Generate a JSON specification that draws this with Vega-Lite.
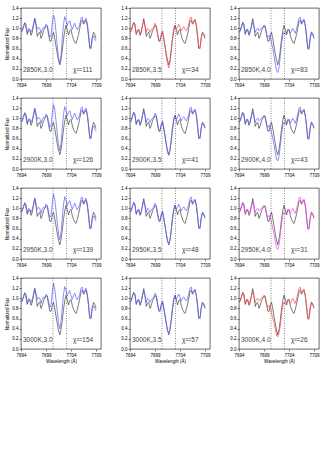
{
"$schema":"https://vega.github.io/schema/vega-lite/v6.json",
"padding":{"left":4,"top":4,"right":4,"bottom":4},
"datasets":{
"s":[
{"w":7694.00,"o":0.93,"a1":0.95,"a2":0.95,"a3":0.95,"a4":0.95,"b1":0.92,"b2":0.92,"b3":0.92,"b4":0.92,"c1":0.92,"c2":0.92,"c3":0.92,"c4":0.92},
{"w":7694.25,"o":0.96,"a1":0.94,"a2":0.94,"a3":0.94,"a4":0.94,"b1":0.95,"b2":0.95,"b3":0.95,"b4":0.95,"c1":0.94,"c2":0.94,"c3":0.94,"c4":0.94},
{"w":7694.50,"o":1.04,"a1":1.02,"a2":1.02,"a3":1.02,"a4":1.02,"b1":1.05,"b2":1.05,"b3":1.05,"b4":1.05,"c1":1.03,"c2":1.03,"c3":1.03,"c4":1.03},
{"w":7694.75,"o":1.11,"a1":1.10,"a2":1.10,"a3":1.10,"a4":1.10,"b1":1.12,"b2":1.12,"b3":1.12,"b4":1.12,"c1":1.12,"c2":1.12,"c3":1.12,"c4":1.12},
{"w":7695.00,"o":1.08,"a1":1.00,"a2":1.00,"a3":1.00,"a4":1.00,"b1":1.04,"b2":1.04,"b3":1.04,"b4":1.04,"c1":1.02,"c2":1.02,"c3":1.02,"c4":1.02},
{"w":7695.25,"o":0.88,"a1":0.90,"a2":0.90,"a3":0.90,"a4":0.90,"b1":0.88,"b2":0.88,"b3":0.88,"b4":0.88,"c1":0.90,"c2":0.90,"c3":0.90,"c4":0.90},
{"w":7695.50,"o":0.95,"a1":1.00,"a2":1.00,"a3":1.00,"a4":1.00,"b1":0.96,"b2":0.96,"b3":0.96,"b4":0.96,"c1":0.98,"c2":0.98,"c3":0.98,"c4":0.98},
{"w":7695.75,"o":0.98,"a1":0.97,"a2":0.97,"a3":0.97,"a4":0.97,"b1":0.97,"b2":0.97,"b3":0.97,"b4":0.97,"c1":0.95,"c2":0.95,"c3":0.95,"c4":0.95},
{"w":7696.00,"o":0.86,"a1":0.92,"a2":0.92,"a3":0.92,"a4":0.92,"b1":0.88,"b2":0.88,"b3":0.88,"b4":0.88,"c1":0.88,"c2":0.88,"c3":0.88,"c4":0.88},
{"w":7696.25,"o":0.92,"a1":0.98,"a2":0.98,"a3":0.98,"a4":0.98,"b1":0.94,"b2":0.94,"b3":0.94,"b4":0.94,"c1":0.95,"c2":0.95,"c3":0.95,"c4":0.95},
{"w":7696.50,"o":1.06,"a1":1.08,"a2":1.08,"a3":1.08,"a4":1.08,"b1":1.05,"b2":1.05,"b3":1.05,"b4":1.05,"c1":1.05,"c2":1.05,"c3":1.05,"c4":1.05},
{"w":7696.75,"o":1.19,"a1":1.20,"a2":1.20,"a3":1.20,"a4":1.20,"b1":1.15,"b2":1.15,"b3":1.15,"b4":1.15,"c1":1.12,"c2":1.12,"c3":1.12,"c4":1.12},
{"w":7697.00,"o":1.05,"a1":1.10,"a2":1.10,"a3":1.10,"a4":1.10,"b1":1.05,"b2":1.05,"b3":1.05,"b4":1.05,"c1":1.02,"c2":1.02,"c3":1.02,"c4":1.02},
{"w":7697.25,"o":0.84,"a1":0.98,"a2":0.98,"a3":0.98,"a4":0.98,"b1":0.92,"b2":0.92,"b3":0.92,"b4":0.92,"c1":0.92,"c2":0.92,"c3":0.92,"c4":0.92},
{"w":7697.50,"o":0.90,"a1":1.02,"a2":1.02,"a3":1.02,"a4":1.02,"b1":1.00,"b2":1.00,"b3":1.00,"b4":1.00,"c1":0.98,"c2":0.98,"c3":0.98,"c4":0.98},
{"w":7697.75,"o":0.92,"a1":1.00,"a2":1.00,"a3":1.00,"a4":1.00,"b1":0.98,"b2":0.98,"b3":0.98,"b4":0.98,"c1":1.00,"c2":1.00,"c3":1.00,"c4":1.00},
{"w":7698.00,"o":0.80,"a1":0.90,"a2":0.90,"a3":0.90,"a4":0.90,"b1":0.92,"b2":0.92,"b3":0.92,"b4":0.92,"c1":0.95,"c2":0.95,"c3":0.95,"c4":0.95},
{"w":7698.25,"o":0.86,"a1":0.98,"a2":0.98,"a3":0.98,"a4":0.98,"b1":0.97,"b2":0.97,"b3":0.97,"b4":0.97,"c1":0.98,"c2":0.98,"c3":0.98,"c4":0.98},
{"w":7698.50,"o":0.95,"a1":1.02,"a2":1.02,"a3":1.02,"a4":1.02,"b1":1.00,"b2":1.00,"b3":1.00,"b4":1.00,"c1":1.00,"c2":1.00,"c3":1.00,"c4":1.00},
{"w":7698.75,"o":1.00,"a1":1.00,"a2":1.00,"a3":1.00,"a4":1.00,"b1":1.02,"b2":1.02,"b3":1.02,"b4":1.02,"c1":1.03,"c2":1.03,"c3":1.03,"c4":1.03},
{"w":7699.00,"o":1.05,"a1":1.08,"a2":1.08,"a3":1.08,"a4":1.08,"b1":1.10,"b2":1.10,"b3":1.10,"b4":1.10,"c1":1.05,"c2":1.05,"c3":1.05,"c4":1.05},
{"w":7699.25,"o":1.04,"a1":1.05,"a2":1.05,"a3":1.05,"a4":1.05,"b1":1.06,"b2":1.06,"b3":1.06,"b4":1.06,"c1":1.00,"c2":1.00,"c3":1.00,"c4":1.00},
{"w":7699.50,"o":0.88,"a1":0.95,"a2":0.95,"a3":0.95,"a4":0.95,"b1":0.92,"b2":0.92,"b3":0.92,"b4":0.92,"c1":0.90,"c2":0.90,"c3":0.90,"c4":0.90},
{"w":7699.75,"o":0.75,"a1":0.82,"a2":0.82,"a3":0.82,"a4":0.82,"b1":0.78,"b2":0.78,"b3":0.78,"b4":0.78,"c1":0.82,"c2":0.82,"c3":0.82,"c4":0.82},
{"w":7700.00,"o":0.74,"a1":0.85,"a2":0.85,"a3":0.85,"a4":0.85,"b1":0.76,"b2":0.76,"b3":0.76,"b4":0.76,"c1":0.86,"c2":0.86,"c3":0.86,"c4":0.86},
{"w":7700.25,"o":0.86,"a1":1.10,"a2":1.10,"a3":1.10,"a4":1.10,"b1":0.88,"b2":0.88,"b3":0.88,"b4":0.88,"c1":0.84,"c2":0.84,"c3":0.84,"c4":0.84},
{"w":7700.50,"o":0.92,"a1":1.26,"a2":1.27,"a3":1.28,"a4":1.30,"b1":0.95,"b2":0.95,"b3":0.95,"b4":0.95,"c1":0.72,"c2":0.72,"c3":0.72,"c4":0.72},
{"w":7700.75,"o":0.80,"a1":1.18,"a2":1.18,"a3":1.18,"a4":1.18,"b1":0.82,"b2":0.82,"b3":0.82,"b4":0.82,"c1":0.60,"c2":0.60,"c3":0.60,"c4":0.60},
{"w":7701.00,"o":0.65,"a1":0.93,"a2":0.95,"a3":0.96,"a4":0.97,"b1":0.62,"b2":0.65,"b3":0.66,"b4":0.68,"c1":0.46,"c2":0.48,"c3":0.50,"c4":0.53},
{"w":7701.25,"o":0.50,"a1":0.66,"a2":0.70,"a3":0.72,"a4":0.74,"b1":0.45,"b2":0.48,"b3":0.50,"b4":0.52,"c1":0.30,"c2":0.33,"c3":0.36,"c4":0.40},
{"w":7701.50,"o":0.37,"a1":0.42,"a2":0.48,"a3":0.50,"a4":0.52,"b1":0.30,"b2":0.33,"b3":0.35,"b4":0.37,"c1":0.17,"c2":0.19,"c3":0.22,"c4":0.27},
{"w":7701.75,"o":0.28,"a1":0.31,"a2":0.36,"a3":0.38,"a4":0.40,"b1":0.22,"b2":0.27,"b3":0.29,"b4":0.31,"c1":0.13,"c2":0.16,"c3":0.19,"c4":0.24},
{"w":7702.00,"o":0.38,"a1":0.46,"a2":0.50,"a3":0.52,"a4":0.54,"b1":0.33,"b2":0.37,"b3":0.39,"b4":0.41,"c1":0.22,"c2":0.25,"c3":0.28,"c4":0.32},
{"w":7702.25,"o":0.56,"a1":0.80,"a2":0.80,"a3":0.80,"a4":0.80,"b1":0.58,"b2":0.58,"b3":0.58,"b4":0.58,"c1":0.45,"c2":0.45,"c3":0.45,"c4":0.45},
{"w":7702.50,"o":0.78,"a1":1.08,"a2":1.08,"a3":1.08,"a4":1.08,"b1":0.82,"b2":0.82,"b3":0.82,"b4":0.82,"c1":0.68,"c2":0.68,"c3":0.68,"c4":0.68},
{"w":7702.75,"o":0.95,"a1":1.23,"a2":1.23,"a3":1.23,"a4":1.23,"b1":1.00,"b2":1.00,"b3":1.00,"b4":1.00,"c1":0.86,"c2":0.86,"c3":0.86,"c4":0.86},
{"w":7703.00,"o":1.06,"a1":1.15,"a2":1.15,"a3":1.15,"a4":1.15,"b1":1.06,"b2":1.06,"b3":1.06,"b4":1.06,"c1":0.92,"c2":0.92,"c3":0.92,"c4":0.92},
{"w":7703.25,"o":0.98,"a1":1.05,"a2":1.05,"a3":1.05,"a4":1.05,"b1":0.98,"b2":0.98,"b3":0.98,"b4":0.98,"c1":0.88,"c2":0.88,"c3":0.88,"c4":0.88},
{"w":7703.50,"o":0.87,"a1":1.12,"a2":1.12,"a3":1.12,"a4":1.12,"b1":1.02,"b2":1.02,"b3":1.02,"b4":1.02,"c1":0.90,"c2":0.90,"c3":0.90,"c4":0.90},
{"w":7703.75,"o":0.95,"a1":1.15,"a2":1.15,"a3":1.15,"a4":1.15,"b1":1.08,"b2":1.08,"b3":1.08,"b4":1.08,"c1":0.98,"c2":0.98,"c3":0.98,"c4":0.98},
{"w":7704.00,"o":0.98,"a1":1.05,"a2":1.05,"a3":1.05,"a4":1.05,"b1":1.02,"b2":1.02,"b3":1.02,"b4":1.02,"c1":0.95,"c2":0.95,"c3":0.95,"c4":0.95},
{"w":7704.25,"o":0.86,"a1":0.98,"a2":0.98,"a3":0.98,"a4":0.98,"b1":0.95,"b2":0.95,"b3":0.95,"b4":0.95,"c1":0.90,"c2":0.90,"c3":0.90,"c4":0.90},
{"w":7704.50,"o":0.78,"a1":1.05,"a2":1.05,"a3":1.05,"a4":1.05,"b1":1.00,"b2":1.00,"b3":1.00,"b4":1.00,"c1":0.95,"c2":0.95,"c3":0.95,"c4":0.95},
{"w":7704.75,"o":0.73,"a1":1.10,"a2":1.10,"a3":1.10,"a4":1.10,"b1":1.03,"b2":1.03,"b3":1.03,"b4":1.03,"c1":1.00,"c2":1.00,"c3":1.00,"c4":1.00},
{"w":7705.00,"o":0.70,"a1":1.02,"a2":1.02,"a3":1.02,"a4":1.02,"b1":0.98,"b2":0.98,"b3":0.98,"b4":0.98,"c1":0.95,"c2":0.95,"c3":0.95,"c4":0.95},
{"w":7705.25,"o":0.78,"a1":0.97,"a2":0.97,"a3":0.97,"a4":0.97,"b1":0.95,"b2":0.95,"b3":0.95,"b4":0.95,"c1":0.90,"c2":0.90,"c3":0.90,"c4":0.90},
{"w":7705.50,"o":0.88,"a1":1.02,"a2":1.02,"a3":1.02,"a4":1.02,"b1":1.00,"b2":1.00,"b3":1.00,"b4":1.00,"c1":0.98,"c2":0.98,"c3":0.98,"c4":0.98},
{"w":7705.75,"o":1.00,"a1":1.08,"a2":1.08,"a3":1.08,"a4":1.08,"b1":1.08,"b2":1.08,"b3":1.08,"b4":1.08,"c1":1.08,"c2":1.08,"c3":1.08,"c4":1.08},
{"w":7706.00,"o":1.13,"a1":1.20,"a2":1.20,"a3":1.20,"a4":1.20,"b1":1.20,"b2":1.20,"b3":1.20,"b4":1.20,"c1":1.20,"c2":1.20,"c3":1.20,"c4":1.20},
{"w":7706.25,"o":1.16,"a1":1.22,"a2":1.22,"a3":1.22,"a4":1.22,"b1":1.22,"b2":1.22,"b3":1.22,"b4":1.22,"c1":1.22,"c2":1.22,"c3":1.22,"c4":1.22},
{"w":7706.50,"o":1.08,"a1":1.10,"a2":1.10,"a3":1.10,"a4":1.10,"b1":1.10,"b2":1.10,"b3":1.10,"b4":1.10,"c1":1.10,"c2":1.10,"c3":1.10,"c4":1.10},
{"w":7706.75,"o":1.12,"a1":1.15,"a2":1.15,"a3":1.15,"a4":1.15,"b1":1.14,"b2":1.14,"b3":1.14,"b4":1.14,"c1":1.15,"c2":1.15,"c3":1.15,"c4":1.15},
{"w":7707.00,"o":1.16,"a1":1.20,"a2":1.20,"a3":1.20,"a4":1.20,"b1":1.18,"b2":1.18,"b3":1.18,"b4":1.18,"c1":1.18,"c2":1.18,"c3":1.18,"c4":1.18},
{"w":7707.25,"o":1.06,"a1":1.10,"a2":1.10,"a3":1.10,"a4":1.10,"b1":1.08,"b2":1.08,"b3":1.08,"b4":1.08,"c1":1.05,"c2":1.05,"c3":1.05,"c4":1.05},
{"w":7707.50,"o":0.85,"a1":0.90,"a2":0.90,"a3":0.90,"a4":0.90,"b1":0.88,"b2":0.88,"b3":0.88,"b4":0.88,"c1":0.85,"c2":0.85,"c3":0.85,"c4":0.85},
{"w":7707.75,"o":0.60,"a1":0.65,"a2":0.65,"a3":0.65,"a4":0.65,"b1":0.63,"b2":0.63,"b3":0.63,"b4":0.63,"c1":0.60,"c2":0.60,"c3":0.60,"c4":0.60},
{"w":7708.00,"o":0.62,"a1":0.60,"a2":0.60,"a3":0.60,"a4":0.60,"b1":0.60,"b2":0.60,"b3":0.60,"b4":0.60,"c1":0.58,"c2":0.58,"c3":0.58,"c4":0.58},
{"w":7708.25,"o":0.82,"a1":0.78,"a2":0.78,"a3":0.78,"a4":0.78,"b1":0.80,"b2":0.80,"b3":0.80,"b4":0.80,"c1":0.80,"c2":0.80,"c3":0.80,"c4":0.80},
{"w":7708.50,"o":0.92,"a1":0.85,"a2":0.85,"a3":0.85,"a4":0.85,"b1":0.92,"b2":0.92,"b3":0.92,"b4":0.92,"c1":0.93,"c2":0.93,"c3":0.93,"c4":0.93},
{"w":7708.75,"o":0.88,"a1":0.80,"a2":0.80,"a3":0.80,"a4":0.80,"b1":0.88,"b2":0.88,"b3":0.88,"b4":0.88,"c1":0.88,"c2":0.88,"c3":0.88,"c4":0.88},
{"w":7709.00,"o":0.80,"a1":0.75,"a2":0.75,"a3":0.75,"a4":0.75,"b1":0.82,"b2":0.82,"b3":0.82,"b4":0.82,"c1":0.82,"c2":0.82,"c3":0.82,"c4":0.82}
],
"d":[{"x":7700.4},{"x":7703.1}],
"t":[
{"p":1,"lab":"2850K,3.0","chi":"χ²=111"},
{"p":2,"lab":"2850K,3.5","chi":"χ²=34"},
{"p":3,"lab":"2850K,4.0","chi":"χ²=83"},
{"p":4,"lab":"2900K,3.0","chi":"χ²=126"},
{"p":5,"lab":"2900K,3.5","chi":"χ²=41"},
{"p":6,"lab":"2900K,4.0","chi":"χ²=43"},
{"p":7,"lab":"2950K,3.0","chi":"χ²=139"},
{"p":8,"lab":"2950K,3.5","chi":"χ²=48"},
{"p":9,"lab":"2950K,4.0","chi":"χ²=31"},
{"p":10,"lab":"3000K,3.0","chi":"χ²=154"},
{"p":11,"lab":"3000K,3.5","chi":"χ²=57"},
{"p":12,"lab":"3000K,4.0","chi":"χ²=26"}
]
},
"spacing":7,
"vconcat":[
{"spacing":18,"hconcat":[
{"width":80,"height":71,"layer":[
{"data":{"name":"s"},"mark":{"type":"line","color":"#222","strokeWidth":0.6},"encoding":{"x":{"field":"w","type":"quantitative","scale":{"domain":[7694,7709]},"axis":{"values":[7694,7699,7704,7709],"format":"d","title":null}},"y":{"field":"o","type":"quantitative","scale":{"domain":[0,1.4]},"axis":{"values":[0,0.2,0.4,0.6,0.8,1,1.2,1.4],"format":".1f","title":"Normalized Flux"}}}},
{"data":{"name":"s"},"mark":{"type":"line","color":"#5a5aff","strokeWidth":0.7},"encoding":{"x":{"field":"w","type":"quantitative"},"y":{"field":"a1","type":"quantitative"}}},
{"data":{"name":"d"},"mark":{"type":"rule","color":"#333","strokeWidth":0.6,"strokeDash":[1,1.5]},"encoding":{"x":{"field":"x","type":"quantitative"}}},
{"data":{"name":"t"},"transform":[{"filter":"datum.p==1"}],"mark":{"type":"text","align":"left","baseline":"middle","fontSize":6.5,"color":"#444"},"encoding":{"x":{"datum":7694.4,"type":"quantitative"},"y":{"datum":0.17,"type":"quantitative"},"text":{"field":"lab"}}},
{"data":{"name":"t"},"transform":[{"filter":"datum.p==1"}],"mark":{"type":"text","align":"left","baseline":"middle","fontSize":6.5,"color":"#444"},"encoding":{"x":{"datum":7704.4,"type":"quantitative"},"y":{"datum":0.17,"type":"quantitative"},"text":{"field":"chi"}}}
]},
{"width":80,"height":71,"layer":[
{"data":{"name":"s"},"mark":{"type":"line","color":"#222","strokeWidth":0.6},"encoding":{"x":{"field":"w","type":"quantitative","scale":{"domain":[7694,7709]},"axis":{"values":[7694,7699,7704,7709],"format":"d","title":null}},"y":{"field":"o","type":"quantitative","scale":{"domain":[0,1.4]},"axis":{"values":[0,0.2,0.4,0.6,0.8,1,1.2,1.4],"format":".1f","title":null}}}},
{"data":{"name":"s"},"mark":{"type":"line","color":"#ff4545","strokeWidth":0.7},"encoding":{"x":{"field":"w","type":"quantitative"},"y":{"field":"b1","type":"quantitative"}}},
{"data":{"name":"d"},"mark":{"type":"rule","color":"#333","strokeWidth":0.6,"strokeDash":[1,1.5]},"encoding":{"x":{"field":"x","type":"quantitative"}}},
{"data":{"name":"t"},"transform":[{"filter":"datum.p==2"}],"mark":{"type":"text","align":"left","baseline":"middle","fontSize":6.5,"color":"#444"},"encoding":{"x":{"datum":7694.4,"type":"quantitative"},"y":{"datum":0.17,"type":"quantitative"},"text":{"field":"lab"}}},
{"data":{"name":"t"},"transform":[{"filter":"datum.p==2"}],"mark":{"type":"text","align":"left","baseline":"middle","fontSize":6.5,"color":"#444"},"encoding":{"x":{"datum":7704.4,"type":"quantitative"},"y":{"datum":0.17,"type":"quantitative"},"text":{"field":"chi"}}}
]},
{"width":80,"height":71,"layer":[
{"data":{"name":"s"},"mark":{"type":"line","color":"#222","strokeWidth":0.6},"encoding":{"x":{"field":"w","type":"quantitative","scale":{"domain":[7694,7709]},"axis":{"values":[7694,7699,7704,7709],"format":"d","title":null}},"y":{"field":"o","type":"quantitative","scale":{"domain":[0,1.4]},"axis":{"values":[0,0.2,0.4,0.6,0.8,1,1.2,1.4],"format":".1f","title":null}}}},
{"data":{"name":"s"},"mark":{"type":"line","color":"#5a5aff","strokeWidth":0.7},"encoding":{"x":{"field":"w","type":"quantitative"},"y":{"field":"c1","type":"quantitative"}}},
{"data":{"name":"d"},"mark":{"type":"rule","color":"#333","strokeWidth":0.6,"strokeDash":[1,1.5]},"encoding":{"x":{"field":"x","type":"quantitative"}}},
{"data":{"name":"t"},"transform":[{"filter":"datum.p==3"}],"mark":{"type":"text","align":"left","baseline":"middle","fontSize":6.5,"color":"#444"},"encoding":{"x":{"datum":7694.4,"type":"quantitative"},"y":{"datum":0.17,"type":"quantitative"},"text":{"field":"lab"}}},
{"data":{"name":"t"},"transform":[{"filter":"datum.p==3"}],"mark":{"type":"text","align":"left","baseline":"middle","fontSize":6.5,"color":"#444"},"encoding":{"x":{"datum":7704.4,"type":"quantitative"},"y":{"datum":0.17,"type":"quantitative"},"text":{"field":"chi"}}}
]}
]},
{"spacing":18,"hconcat":[
{"width":80,"height":71,"layer":[
{"data":{"name":"s"},"mark":{"type":"line","color":"#222","strokeWidth":0.6},"encoding":{"x":{"field":"w","type":"quantitative","scale":{"domain":[7694,7709]},"axis":{"values":[7694,7699,7704,7709],"format":"d","title":null}},"y":{"field":"o","type":"quantitative","scale":{"domain":[0,1.4]},"axis":{"values":[0,0.2,0.4,0.6,0.8,1,1.2,1.4],"format":".1f","title":"Normalized Flux"}}}},
{"data":{"name":"s"},"mark":{"type":"line","color":"#5a5aff","strokeWidth":0.7},"encoding":{"x":{"field":"w","type":"quantitative"},"y":{"field":"a2","type":"quantitative"}}},
{"data":{"name":"d"},"mark":{"type":"rule","color":"#333","strokeWidth":0.6,"strokeDash":[1,1.5]},"encoding":{"x":{"field":"x","type":"quantitative"}}},
{"data":{"name":"t"},"transform":[{"filter":"datum.p==4"}],"mark":{"type":"text","align":"left","baseline":"middle","fontSize":6.5,"color":"#444"},"encoding":{"x":{"datum":7694.4,"type":"quantitative"},"y":{"datum":0.17,"type":"quantitative"},"text":{"field":"lab"}}},
{"data":{"name":"t"},"transform":[{"filter":"datum.p==4"}],"mark":{"type":"text","align":"left","baseline":"middle","fontSize":6.5,"color":"#444"},"encoding":{"x":{"datum":7704.4,"type":"quantitative"},"y":{"datum":0.17,"type":"quantitative"},"text":{"field":"chi"}}}
]},
{"width":80,"height":71,"layer":[
{"data":{"name":"s"},"mark":{"type":"line","color":"#222","strokeWidth":0.6},"encoding":{"x":{"field":"w","type":"quantitative","scale":{"domain":[7694,7709]},"axis":{"values":[7694,7699,7704,7709],"format":"d","title":null}},"y":{"field":"o","type":"quantitative","scale":{"domain":[0,1.4]},"axis":{"values":[0,0.2,0.4,0.6,0.8,1,1.2,1.4],"format":".1f","title":null}}}},
{"data":{"name":"s"},"mark":{"type":"line","color":"#5a5aff","strokeWidth":0.7},"encoding":{"x":{"field":"w","type":"quantitative"},"y":{"field":"b2","type":"quantitative"}}},
{"data":{"name":"d"},"mark":{"type":"rule","color":"#333","strokeWidth":0.6,"strokeDash":[1,1.5]},"encoding":{"x":{"field":"x","type":"quantitative"}}},
{"data":{"name":"t"},"transform":[{"filter":"datum.p==5"}],"mark":{"type":"text","align":"left","baseline":"middle","fontSize":6.5,"color":"#444"},"encoding":{"x":{"datum":7694.4,"type":"quantitative"},"y":{"datum":0.17,"type":"quantitative"},"text":{"field":"lab"}}},
{"data":{"name":"t"},"transform":[{"filter":"datum.p==5"}],"mark":{"type":"text","align":"left","baseline":"middle","fontSize":6.5,"color":"#444"},"encoding":{"x":{"datum":7704.4,"type":"quantitative"},"y":{"datum":0.17,"type":"quantitative"},"text":{"field":"chi"}}}
]},
{"width":80,"height":71,"layer":[
{"data":{"name":"s"},"mark":{"type":"line","color":"#222","strokeWidth":0.6},"encoding":{"x":{"field":"w","type":"quantitative","scale":{"domain":[7694,7709]},"axis":{"values":[7694,7699,7704,7709],"format":"d","title":null}},"y":{"field":"o","type":"quantitative","scale":{"domain":[0,1.4]},"axis":{"values":[0,0.2,0.4,0.6,0.8,1,1.2,1.4],"format":".1f","title":null}}}},
{"data":{"name":"s"},"mark":{"type":"line","color":"#5a5aff","strokeWidth":0.7},"encoding":{"x":{"field":"w","type":"quantitative"},"y":{"field":"c2","type":"quantitative"}}},
{"data":{"name":"d"},"mark":{"type":"rule","color":"#333","strokeWidth":0.6,"strokeDash":[1,1.5]},"encoding":{"x":{"field":"x","type":"quantitative"}}},
{"data":{"name":"t"},"transform":[{"filter":"datum.p==6"}],"mark":{"type":"text","align":"left","baseline":"middle","fontSize":6.5,"color":"#444"},"encoding":{"x":{"datum":7694.4,"type":"quantitative"},"y":{"datum":0.17,"type":"quantitative"},"text":{"field":"lab"}}},
{"data":{"name":"t"},"transform":[{"filter":"datum.p==6"}],"mark":{"type":"text","align":"left","baseline":"middle","fontSize":6.5,"color":"#444"},"encoding":{"x":{"datum":7704.4,"type":"quantitative"},"y":{"datum":0.17,"type":"quantitative"},"text":{"field":"chi"}}}
]}
]},
{"spacing":18,"hconcat":[
{"width":80,"height":71,"layer":[
{"data":{"name":"s"},"mark":{"type":"line","color":"#222","strokeWidth":0.6},"encoding":{"x":{"field":"w","type":"quantitative","scale":{"domain":[7694,7709]},"axis":{"values":[7694,7699,7704,7709],"format":"d","title":null}},"y":{"field":"o","type":"quantitative","scale":{"domain":[0,1.4]},"axis":{"values":[0,0.2,0.4,0.6,0.8,1,1.2,1.4],"format":".1f","title":"Normalized Flux"}}}},
{"data":{"name":"s"},"mark":{"type":"line","color":"#5a5aff","strokeWidth":0.7},"encoding":{"x":{"field":"w","type":"quantitative"},"y":{"field":"a3","type":"quantitative"}}},
{"data":{"name":"d"},"mark":{"type":"rule","color":"#333","strokeWidth":0.6,"strokeDash":[1,1.5]},"encoding":{"x":{"field":"x","type":"quantitative"}}},
{"data":{"name":"t"},"transform":[{"filter":"datum.p==7"}],"mark":{"type":"text","align":"left","baseline":"middle","fontSize":6.5,"color":"#444"},"encoding":{"x":{"datum":7694.4,"type":"quantitative"},"y":{"datum":0.17,"type":"quantitative"},"text":{"field":"lab"}}},
{"data":{"name":"t"},"transform":[{"filter":"datum.p==7"}],"mark":{"type":"text","align":"left","baseline":"middle","fontSize":6.5,"color":"#444"},"encoding":{"x":{"datum":7704.4,"type":"quantitative"},"y":{"datum":0.17,"type":"quantitative"},"text":{"field":"chi"}}}
]},
{"width":80,"height":71,"layer":[
{"data":{"name":"s"},"mark":{"type":"line","color":"#222","strokeWidth":0.6},"encoding":{"x":{"field":"w","type":"quantitative","scale":{"domain":[7694,7709]},"axis":{"values":[7694,7699,7704,7709],"format":"d","title":null}},"y":{"field":"o","type":"quantitative","scale":{"domain":[0,1.4]},"axis":{"values":[0,0.2,0.4,0.6,0.8,1,1.2,1.4],"format":".1f","title":null}}}},
{"data":{"name":"s"},"mark":{"type":"line","color":"#5a5aff","strokeWidth":0.7},"encoding":{"x":{"field":"w","type":"quantitative"},"y":{"field":"b3","type":"quantitative"}}},
{"data":{"name":"d"},"mark":{"type":"rule","color":"#333","strokeWidth":0.6,"strokeDash":[1,1.5]},"encoding":{"x":{"field":"x","type":"quantitative"}}},
{"data":{"name":"t"},"transform":[{"filter":"datum.p==8"}],"mark":{"type":"text","align":"left","baseline":"middle","fontSize":6.5,"color":"#444"},"encoding":{"x":{"datum":7694.4,"type":"quantitative"},"y":{"datum":0.17,"type":"quantitative"},"text":{"field":"lab"}}},
{"data":{"name":"t"},"transform":[{"filter":"datum.p==8"}],"mark":{"type":"text","align":"left","baseline":"middle","fontSize":6.5,"color":"#444"},"encoding":{"x":{"datum":7704.4,"type":"quantitative"},"y":{"datum":0.17,"type":"quantitative"},"text":{"field":"chi"}}}
]},
{"width":80,"height":71,"layer":[
{"data":{"name":"s"},"mark":{"type":"line","color":"#222","strokeWidth":0.6},"encoding":{"x":{"field":"w","type":"quantitative","scale":{"domain":[7694,7709]},"axis":{"values":[7694,7699,7704,7709],"format":"d","title":null}},"y":{"field":"o","type":"quantitative","scale":{"domain":[0,1.4]},"axis":{"values":[0,0.2,0.4,0.6,0.8,1,1.2,1.4],"format":".1f","title":null}}}},
{"data":{"name":"s"},"mark":{"type":"line","color":"#f040f0","strokeWidth":0.7},"encoding":{"x":{"field":"w","type":"quantitative"},"y":{"field":"c3","type":"quantitative"}}},
{"data":{"name":"d"},"mark":{"type":"rule","color":"#333","strokeWidth":0.6,"strokeDash":[1,1.5]},"encoding":{"x":{"field":"x","type":"quantitative"}}},
{"data":{"name":"t"},"transform":[{"filter":"datum.p==9"}],"mark":{"type":"text","align":"left","baseline":"middle","fontSize":6.5,"color":"#444"},"encoding":{"x":{"datum":7694.4,"type":"quantitative"},"y":{"datum":0.17,"type":"quantitative"},"text":{"field":"lab"}}},
{"data":{"name":"t"},"transform":[{"filter":"datum.p==9"}],"mark":{"type":"text","align":"left","baseline":"middle","fontSize":6.5,"color":"#444"},"encoding":{"x":{"datum":7704.4,"type":"quantitative"},"y":{"datum":0.17,"type":"quantitative"},"text":{"field":"chi"}}}
]}
]},
{"spacing":18,"hconcat":[
{"width":80,"height":71,"layer":[
{"data":{"name":"s"},"mark":{"type":"line","color":"#222","strokeWidth":0.6},"encoding":{"x":{"field":"w","type":"quantitative","scale":{"domain":[7694,7709]},"axis":{"values":[7694,7699,7704,7709],"format":"d","title":"Wavelength (Å)"}},"y":{"field":"o","type":"quantitative","scale":{"domain":[0,1.4]},"axis":{"values":[0,0.2,0.4,0.6,0.8,1,1.2,1.4],"format":".1f","title":"Normalized Flux"}}}},
{"data":{"name":"s"},"mark":{"type":"line","color":"#5a5aff","strokeWidth":0.7},"encoding":{"x":{"field":"w","type":"quantitative"},"y":{"field":"a4","type":"quantitative"}}},
{"data":{"name":"d"},"mark":{"type":"rule","color":"#333","strokeWidth":0.6,"strokeDash":[1,1.5]},"encoding":{"x":{"field":"x","type":"quantitative"}}},
{"data":{"name":"t"},"transform":[{"filter":"datum.p==10"}],"mark":{"type":"text","align":"left","baseline":"middle","fontSize":6.5,"color":"#444"},"encoding":{"x":{"datum":7694.4,"type":"quantitative"},"y":{"datum":0.17,"type":"quantitative"},"text":{"field":"lab"}}},
{"data":{"name":"t"},"transform":[{"filter":"datum.p==10"}],"mark":{"type":"text","align":"left","baseline":"middle","fontSize":6.5,"color":"#444"},"encoding":{"x":{"datum":7704.4,"type":"quantitative"},"y":{"datum":0.17,"type":"quantitative"},"text":{"field":"chi"}}}
]},
{"width":80,"height":71,"layer":[
{"data":{"name":"s"},"mark":{"type":"line","color":"#222","strokeWidth":0.6},"encoding":{"x":{"field":"w","type":"quantitative","scale":{"domain":[7694,7709]},"axis":{"values":[7694,7699,7704,7709],"format":"d","title":"Wavelength (Å)"}},"y":{"field":"o","type":"quantitative","scale":{"domain":[0,1.4]},"axis":{"values":[0,0.2,0.4,0.6,0.8,1,1.2,1.4],"format":".1f","title":null}}}},
{"data":{"name":"s"},"mark":{"type":"line","color":"#5a5aff","strokeWidth":0.7},"encoding":{"x":{"field":"w","type":"quantitative"},"y":{"field":"b4","type":"quantitative"}}},
{"data":{"name":"d"},"mark":{"type":"rule","color":"#333","strokeWidth":0.6,"strokeDash":[1,1.5]},"encoding":{"x":{"field":"x","type":"quantitative"}}},
{"data":{"name":"t"},"transform":[{"filter":"datum.p==11"}],"mark":{"type":"text","align":"left","baseline":"middle","fontSize":6.5,"color":"#444"},"encoding":{"x":{"datum":7694.4,"type":"quantitative"},"y":{"datum":0.17,"type":"quantitative"},"text":{"field":"lab"}}},
{"data":{"name":"t"},"transform":[{"filter":"datum.p==11"}],"mark":{"type":"text","align":"left","baseline":"middle","fontSize":6.5,"color":"#444"},"encoding":{"x":{"datum":7704.4,"type":"quantitative"},"y":{"datum":0.17,"type":"quantitative"},"text":{"field":"chi"}}}
]},
{"width":80,"height":71,"layer":[
{"data":{"name":"s"},"mark":{"type":"line","color":"#222","strokeWidth":0.6},"encoding":{"x":{"field":"w","type":"quantitative","scale":{"domain":[7694,7709]},"axis":{"values":[7694,7699,7704,7709],"format":"d","title":"Wavelength (Å)"}},"y":{"field":"o","type":"quantitative","scale":{"domain":[0,1.4]},"axis":{"values":[0,0.2,0.4,0.6,0.8,1,1.2,1.4],"format":".1f","title":null}}}},
{"data":{"name":"s"},"mark":{"type":"line","color":"#ff4545","strokeWidth":0.7},"encoding":{"x":{"field":"w","type":"quantitative"},"y":{"field":"c4","type":"quantitative"}}},
{"data":{"name":"d"},"mark":{"type":"rule","color":"#333","strokeWidth":0.6,"strokeDash":[1,1.5]},"encoding":{"x":{"field":"x","type":"quantitative"}}},
{"data":{"name":"t"},"transform":[{"filter":"datum.p==12"}],"mark":{"type":"text","align":"left","baseline":"middle","fontSize":6.5,"color":"#444"},"encoding":{"x":{"datum":7694.4,"type":"quantitative"},"y":{"datum":0.17,"type":"quantitative"},"text":{"field":"lab"}}},
{"data":{"name":"t"},"transform":[{"filter":"datum.p==12"}],"mark":{"type":"text","align":"left","baseline":"middle","fontSize":6.5,"color":"#444"},"encoding":{"x":{"datum":7704.4,"type":"quantitative"},"y":{"datum":0.17,"type":"quantitative"},"text":{"field":"chi"}}}
]}
]}
],
"config":{
"font":"Liberation Sans",
"view":{"stroke":"#000","strokeWidth":0.6},
"axis":{"labelFontSize":4.5,"labelColor":"#000","tickSize":2,"tickColor":"#000","tickWidth":0.5,"tickCount":20,"domain":false,"grid":false,"titleFontSize":4.5,"titleFontWeight":"normal","titleColor":"#000","labelFlush":false,"labelPadding":1,"titlePadding":2,"labelOverlap":false}
}
}
